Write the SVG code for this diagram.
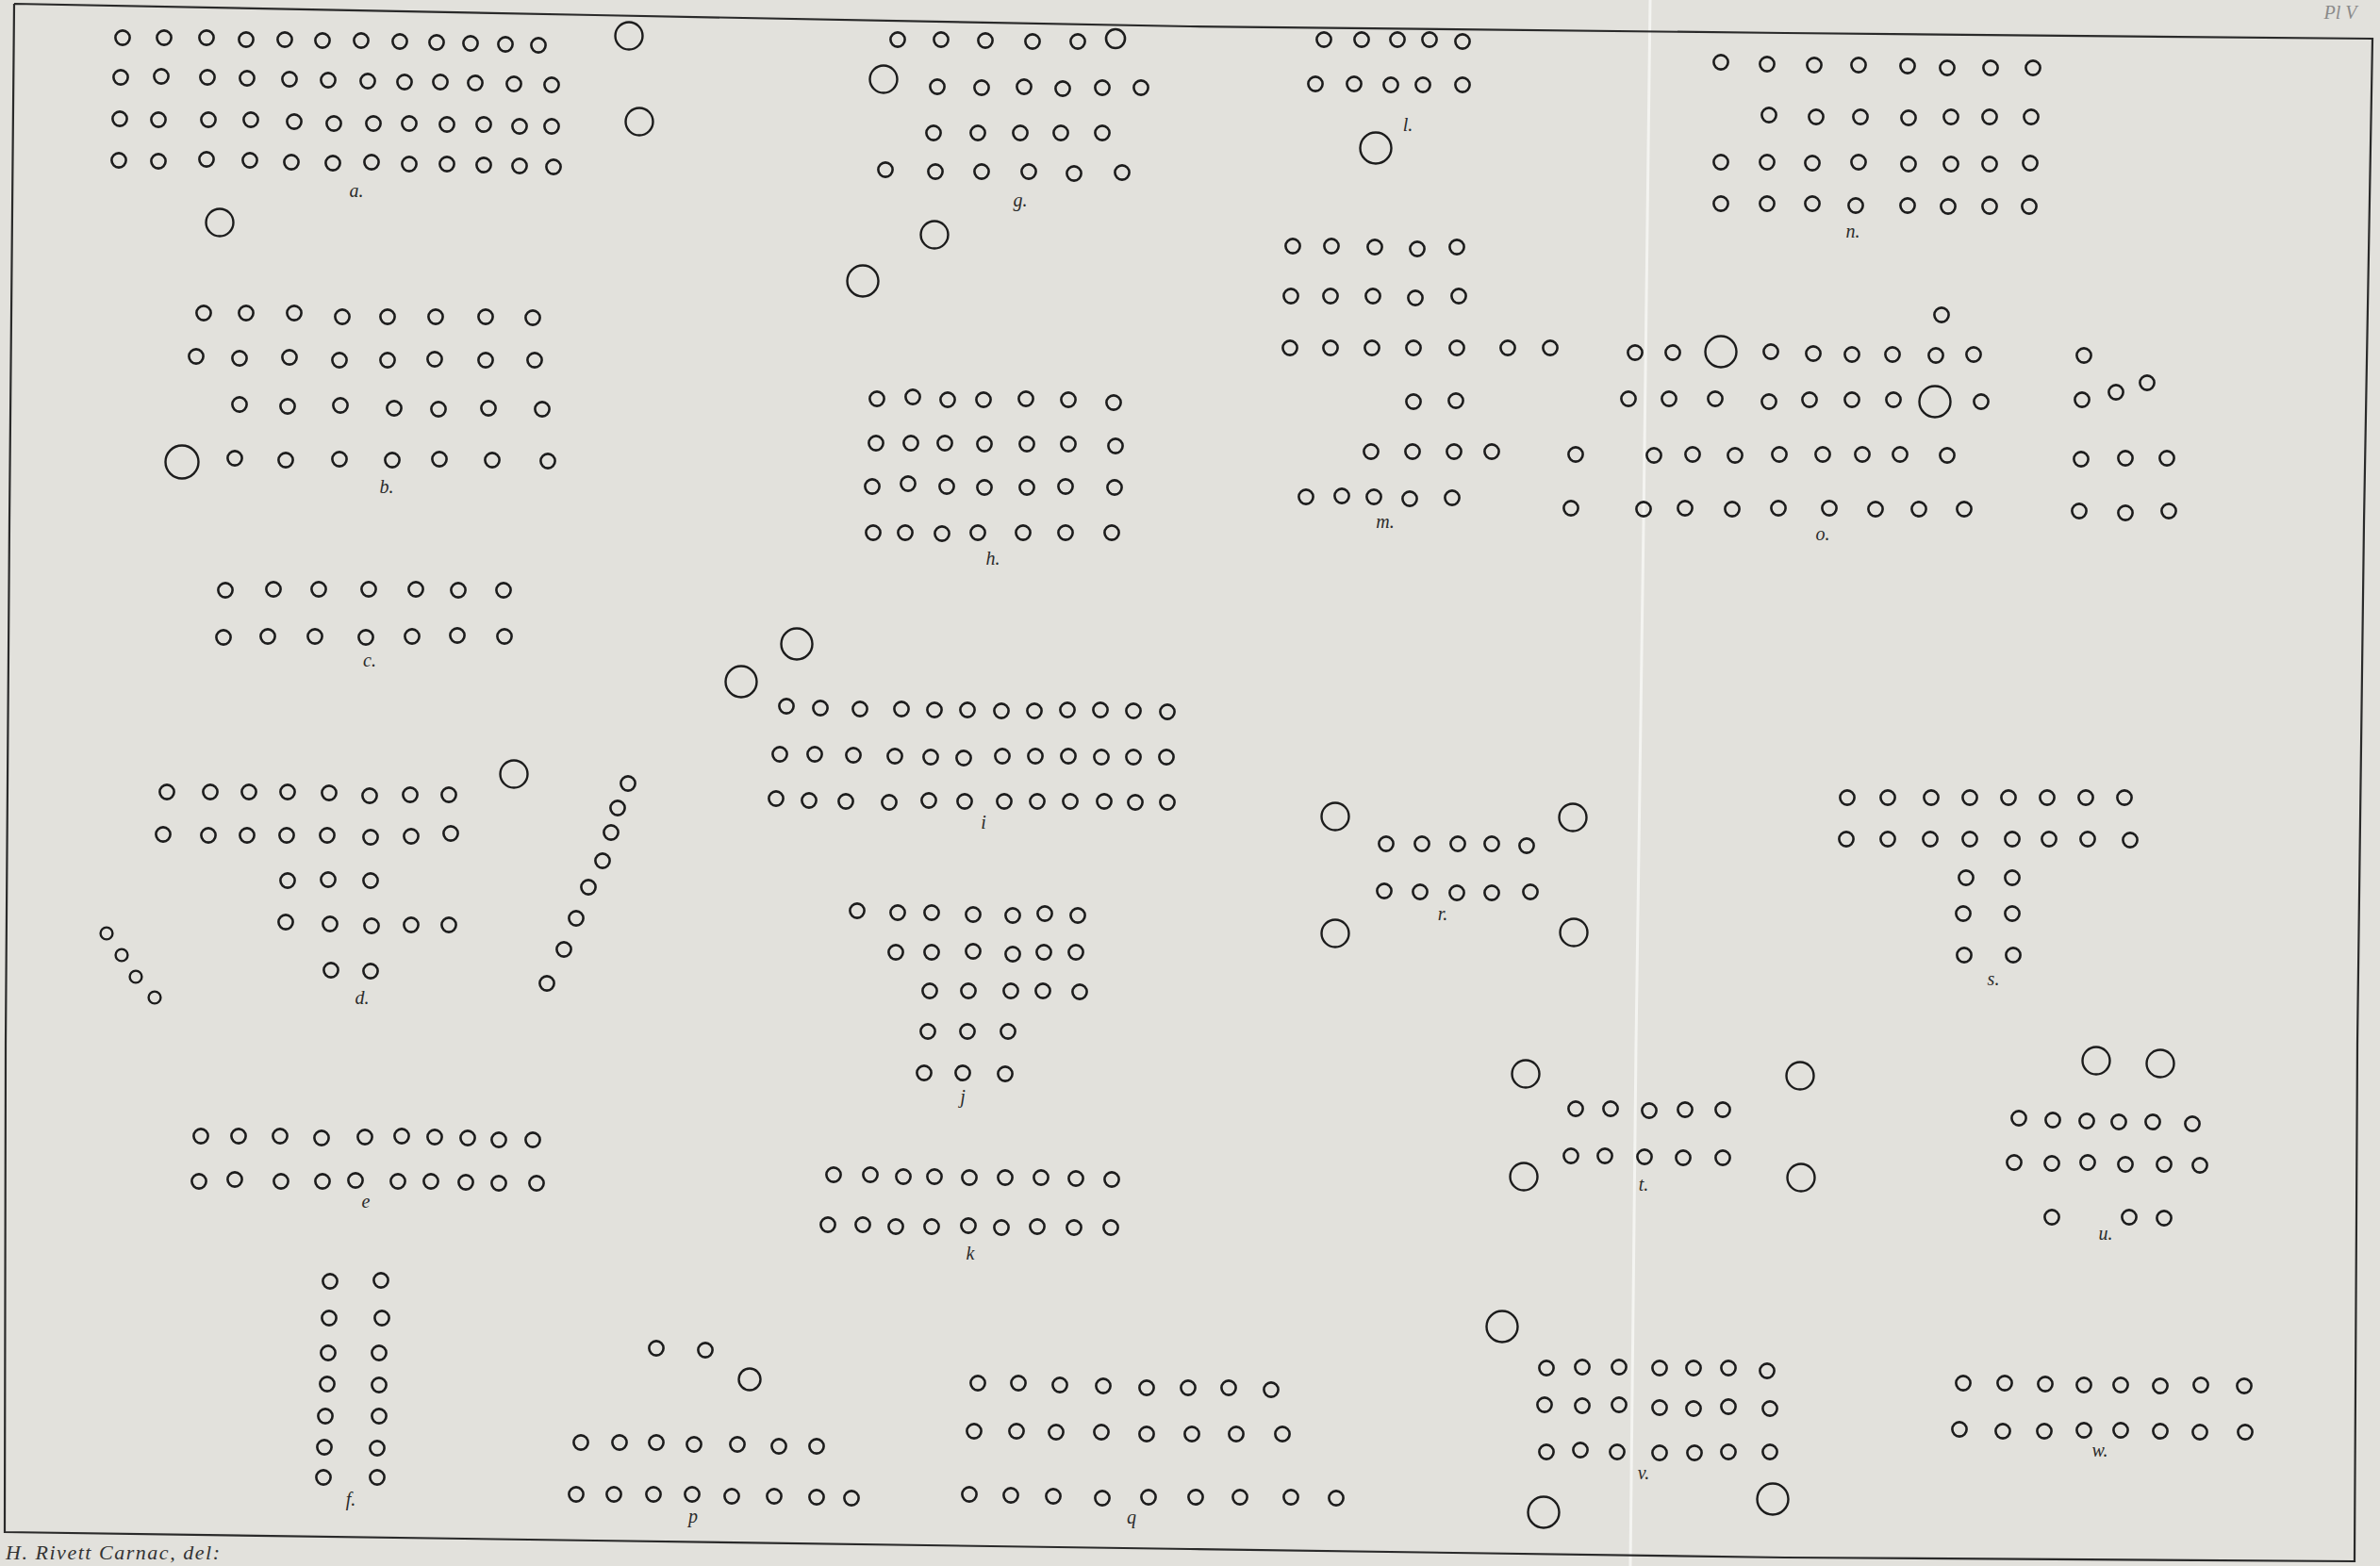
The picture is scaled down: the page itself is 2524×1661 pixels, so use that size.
<svg xmlns="http://www.w3.org/2000/svg" xmlns:xlink="http://www.w3.org/1999/xlink" width="2524" height="1661" viewBox="0 0 2524 1661">
<style>
.lbl{font-family:"Liberation Serif","DejaVu Serif",serif;font-style:italic;font-size:20px;fill:#2b2b2b;text-anchor:middle}
.frame{fill:none;stroke:#2a2a2a;stroke-width:2.2}
</style>
<defs>
<circle id="s" r="7.6" fill="none" stroke="#1c1c1c" stroke-width="2.6"/>
<circle id="t" r="6.4" fill="none" stroke="#1c1c1c" stroke-width="2.4"/>
<circle id="m" r="10" fill="none" stroke="#1c1c1c" stroke-width="2.6"/>
<circle id="m2" r="11.5" fill="none" stroke="#1c1c1c" stroke-width="2.4"/>
<circle id="b" r="14.5" fill="none" stroke="#1c1c1c" stroke-width="2.4"/>
<circle id="B" r="16.5" fill="none" stroke="#1c1c1c" stroke-width="2.4"/>
<circle id="L" r="17.5" fill="none" stroke="#1c1c1c" stroke-width="2.4"/>
</defs>
<rect width="2524" height="1661" fill="#e2e1dc"/>
<polyline points="1750,0 1743,554 1735,1108 1729,1661" fill="none" stroke="#f4f4f1" stroke-width="3"/>
<g id="frame">
<polyline class="frame" points="15,4 631,16 1262,28 1893,35 2516,41 2507,554 2500,1108 2497,1656 1893,1652 1262,1643 631,1634 5,1625 6,1108 10,554 15,4"/>
</g>
<text x="2482" y="20" style="font-family:'Liberation Serif',serif;font-style:italic;font-size:20px;fill:#8a8a8a;text-anchor:middle">Pl V</text>
<text x="6" y="1654" textLength="227" style="font-family:'Liberation Serif',serif;font-style:italic;font-size:22px;fill:#333">H. Rivett Carnac, del:</text>

<g id="fig-a">
<use href="#s" x="130" y="40"/><use href="#s" x="174" y="40"/><use href="#s" x="219" y="40"/><use href="#s" x="261" y="42"/><use href="#s" x="302" y="42"/><use href="#s" x="342" y="43"/><use href="#s" x="383" y="43"/><use href="#s" x="424" y="44"/><use href="#s" x="463" y="45"/><use href="#s" x="499" y="46"/><use href="#s" x="536" y="47"/><use href="#s" x="571" y="48"/>
<use href="#s" x="128" y="82"/><use href="#s" x="171" y="81"/><use href="#s" x="220" y="82"/><use href="#s" x="262" y="83"/><use href="#s" x="307" y="84"/><use href="#s" x="348" y="85"/><use href="#s" x="390" y="86"/><use href="#s" x="429" y="87"/><use href="#s" x="467" y="87"/><use href="#s" x="504" y="88"/><use href="#s" x="545" y="89"/><use href="#s" x="585" y="90"/>
<use href="#s" x="127" y="126"/><use href="#s" x="168" y="127"/><use href="#s" x="221" y="127"/><use href="#s" x="266" y="127"/><use href="#s" x="312" y="129"/><use href="#s" x="354" y="131"/><use href="#s" x="396" y="131"/><use href="#s" x="434" y="131"/><use href="#s" x="474" y="132"/><use href="#s" x="513" y="132"/><use href="#s" x="551" y="134"/><use href="#s" x="585" y="134"/>
<use href="#s" x="126" y="170"/><use href="#s" x="168" y="171"/><use href="#s" x="219" y="169"/><use href="#s" x="265" y="170"/><use href="#s" x="309" y="172"/><use href="#s" x="353" y="173"/><use href="#s" x="394" y="172"/><use href="#s" x="434" y="174"/><use href="#s" x="474" y="174"/><use href="#s" x="513" y="175"/><use href="#s" x="551" y="176"/><use href="#s" x="587" y="177"/>
<use href="#b" x="233" y="236"/>
<text class="lbl" x="378" y="209">a.</text>
</g>

<g id="fig-b">
<use href="#s" x="216" y="332"/><use href="#s" x="261" y="332"/><use href="#s" x="312" y="332"/><use href="#s" x="363" y="336"/><use href="#s" x="411" y="336"/><use href="#s" x="462" y="336"/><use href="#s" x="515" y="336"/><use href="#s" x="565" y="337"/>
<use href="#s" x="208" y="378"/><use href="#s" x="254" y="380"/><use href="#s" x="307" y="379"/><use href="#s" x="360" y="382"/><use href="#s" x="411" y="382"/><use href="#s" x="461" y="381"/><use href="#s" x="515" y="382"/><use href="#s" x="567" y="382"/>
<use href="#s" x="254" y="429"/><use href="#s" x="305" y="431"/><use href="#s" x="361" y="430"/><use href="#s" x="418" y="433"/><use href="#s" x="465" y="434"/><use href="#s" x="518" y="433"/><use href="#s" x="575" y="434"/>
<use href="#L" x="193" y="490"/>
<use href="#s" x="249" y="486"/><use href="#s" x="303" y="488"/><use href="#s" x="360" y="487"/><use href="#s" x="416" y="488"/><use href="#s" x="466" y="487"/><use href="#s" x="522" y="488"/><use href="#s" x="581" y="489"/>
<text class="lbl" x="410" y="523">b.</text>
</g>

<g id="fig-top-pair">
<use href="#b" x="667" y="38"/><use href="#b" x="678" y="129"/>
</g>

<g id="fig-c">
<use href="#s" x="239" y="626"/><use href="#s" x="290" y="625"/><use href="#s" x="338" y="625"/><use href="#s" x="391" y="625"/><use href="#s" x="441" y="625"/><use href="#s" x="486" y="626"/><use href="#s" x="534" y="626"/>
<use href="#s" x="237" y="676"/><use href="#s" x="284" y="675"/><use href="#s" x="334" y="675"/><use href="#s" x="388" y="676"/><use href="#s" x="437" y="675"/><use href="#s" x="485" y="674"/><use href="#s" x="535" y="675"/>
<text class="lbl" x="392" y="707">c.</text>
</g>

<g id="fig-d">
<use href="#s" x="177" y="840"/><use href="#s" x="223" y="840"/><use href="#s" x="264" y="840"/><use href="#s" x="305" y="840"/><use href="#s" x="349" y="841"/><use href="#s" x="392" y="844"/><use href="#s" x="435" y="843"/><use href="#s" x="476" y="843"/>
<use href="#s" x="173" y="885"/><use href="#s" x="221" y="886"/><use href="#s" x="262" y="886"/><use href="#s" x="304" y="886"/><use href="#s" x="347" y="886"/><use href="#s" x="393" y="888"/><use href="#s" x="436" y="887"/><use href="#s" x="478" y="884"/>
<use href="#s" x="305" y="934"/><use href="#s" x="348" y="933"/><use href="#s" x="393" y="934"/>
<use href="#s" x="303" y="978"/><use href="#s" x="350" y="980"/><use href="#s" x="394" y="982"/><use href="#s" x="436" y="981"/><use href="#s" x="476" y="981"/>
<use href="#s" x="351" y="1029"/><use href="#s" x="393" y="1030"/>
<use href="#t" x="113" y="990"/><use href="#t" x="129" y="1013"/><use href="#t" x="144" y="1036"/><use href="#t" x="164" y="1058"/>
<use href="#b" x="545" y="821"/>
<use href="#s" x="666" y="831"/><use href="#s" x="655" y="857"/><use href="#s" x="648" y="883"/><use href="#s" x="639" y="913"/><use href="#s" x="624" y="941"/><use href="#s" x="611" y="974"/><use href="#s" x="598" y="1007"/><use href="#s" x="580" y="1043"/>
<text class="lbl" x="384" y="1065">d.</text>
</g>

<g id="fig-e">
<use href="#s" x="213" y="1205"/><use href="#s" x="253" y="1205"/><use href="#s" x="297" y="1205"/><use href="#s" x="341" y="1207"/><use href="#s" x="387" y="1206"/><use href="#s" x="426" y="1205"/><use href="#s" x="461" y="1206"/><use href="#s" x="496" y="1207"/><use href="#s" x="529" y="1209"/><use href="#s" x="565" y="1209"/>
<use href="#s" x="211" y="1253"/><use href="#s" x="249" y="1251"/><use href="#s" x="298" y="1253"/><use href="#s" x="342" y="1253"/><use href="#s" x="377" y="1252"/><use href="#s" x="422" y="1253"/><use href="#s" x="457" y="1253"/><use href="#s" x="494" y="1254"/><use href="#s" x="529" y="1255"/><use href="#s" x="569" y="1255"/>
<text class="lbl" x="388" y="1281">e</text>
</g>

<g id="fig-f">
<use href="#s" x="350" y="1359"/><use href="#s" x="349" y="1398"/><use href="#s" x="348" y="1435"/><use href="#s" x="347" y="1468"/><use href="#s" x="345" y="1502"/><use href="#s" x="344" y="1535"/><use href="#s" x="343" y="1567"/>
<use href="#s" x="404" y="1358"/><use href="#s" x="405" y="1398"/><use href="#s" x="402" y="1435"/><use href="#s" x="402" y="1469"/><use href="#s" x="402" y="1502"/><use href="#s" x="400" y="1536"/><use href="#s" x="400" y="1567"/>
<text class="lbl" x="372" y="1597">f.</text>
</g>

<g id="fig-g">
<use href="#s" x="952" y="42"/><use href="#s" x="998" y="42"/><use href="#s" x="1045" y="43"/><use href="#s" x="1095" y="44"/><use href="#s" x="1143" y="44"/><use href="#m" x="1183" y="41"/>
<use href="#b" x="937" y="84"/>
<use href="#s" x="994" y="92"/><use href="#s" x="1041" y="93"/><use href="#s" x="1086" y="92"/><use href="#s" x="1127" y="94"/><use href="#s" x="1169" y="93"/><use href="#s" x="1210" y="93"/>
<use href="#s" x="990" y="141"/><use href="#s" x="1037" y="141"/><use href="#s" x="1082" y="141"/><use href="#s" x="1125" y="141"/><use href="#s" x="1169" y="141"/>
<use href="#s" x="939" y="180"/><use href="#s" x="992" y="182"/><use href="#s" x="1041" y="182"/><use href="#s" x="1091" y="182"/><use href="#s" x="1139" y="184"/><use href="#s" x="1190" y="183"/>
<use href="#b" x="991" y="249"/><use href="#B" x="915" y="298"/>
<text class="lbl" x="1082" y="219">g.</text>
</g>

<g id="fig-h">
<use href="#s" x="930" y="423"/><use href="#s" x="968" y="421"/><use href="#s" x="1005" y="424"/><use href="#s" x="1043" y="424"/><use href="#s" x="1088" y="423"/><use href="#s" x="1133" y="424"/><use href="#s" x="1181" y="427"/>
<use href="#s" x="929" y="470"/><use href="#s" x="966" y="470"/><use href="#s" x="1002" y="470"/><use href="#s" x="1044" y="471"/><use href="#s" x="1089" y="471"/><use href="#s" x="1133" y="471"/><use href="#s" x="1183" y="473"/>
<use href="#s" x="925" y="516"/><use href="#s" x="963" y="513"/><use href="#s" x="1004" y="516"/><use href="#s" x="1044" y="517"/><use href="#s" x="1089" y="517"/><use href="#s" x="1130" y="516"/><use href="#s" x="1182" y="517"/>
<use href="#s" x="926" y="565"/><use href="#s" x="960" y="565"/><use href="#s" x="999" y="566"/><use href="#s" x="1037" y="565"/><use href="#s" x="1085" y="565"/><use href="#s" x="1130" y="565"/><use href="#s" x="1179" y="565"/>
<text class="lbl" x="1053" y="599">h.</text>
</g>

<g id="fig-i">
<use href="#B" x="845" y="683"/><use href="#B" x="786" y="723"/>
<use href="#s" x="834" y="749"/><use href="#s" x="870" y="751"/><use href="#s" x="912" y="752"/><use href="#s" x="956" y="752"/><use href="#s" x="991" y="753"/><use href="#s" x="1026" y="753"/><use href="#s" x="1062" y="754"/><use href="#s" x="1097" y="754"/><use href="#s" x="1132" y="753"/><use href="#s" x="1167" y="753"/><use href="#s" x="1202" y="754"/><use href="#s" x="1238" y="755"/>
<use href="#s" x="827" y="800"/><use href="#s" x="864" y="800"/><use href="#s" x="905" y="801"/><use href="#s" x="949" y="802"/><use href="#s" x="987" y="803"/><use href="#s" x="1022" y="804"/><use href="#s" x="1063" y="802"/><use href="#s" x="1098" y="802"/><use href="#s" x="1133" y="802"/><use href="#s" x="1168" y="803"/><use href="#s" x="1202" y="803"/><use href="#s" x="1237" y="803"/>
<use href="#s" x="823" y="847"/><use href="#s" x="858" y="849"/><use href="#s" x="897" y="850"/><use href="#s" x="943" y="851"/><use href="#s" x="985" y="849"/><use href="#s" x="1023" y="850"/><use href="#s" x="1065" y="850"/><use href="#s" x="1100" y="850"/><use href="#s" x="1135" y="850"/><use href="#s" x="1171" y="850"/><use href="#s" x="1204" y="851"/><use href="#s" x="1238" y="851"/>
<text class="lbl" x="1043" y="879">i</text>
</g>

<g id="fig-j">
<use href="#s" x="909" y="966"/><use href="#s" x="952" y="968"/><use href="#s" x="988" y="968"/><use href="#s" x="1032" y="970"/><use href="#s" x="1074" y="971"/><use href="#s" x="1108" y="969"/><use href="#s" x="1143" y="971"/>
<use href="#s" x="950" y="1010"/><use href="#s" x="988" y="1010"/><use href="#s" x="1032" y="1009"/><use href="#s" x="1074" y="1012"/><use href="#s" x="1107" y="1010"/><use href="#s" x="1141" y="1010"/>
<use href="#s" x="986" y="1051"/><use href="#s" x="1027" y="1051"/><use href="#s" x="1072" y="1051"/><use href="#s" x="1106" y="1051"/><use href="#s" x="1145" y="1052"/>
<use href="#s" x="984" y="1094"/><use href="#s" x="1026" y="1094"/><use href="#s" x="1069" y="1094"/>
<use href="#s" x="980" y="1138"/><use href="#s" x="1021" y="1138"/><use href="#s" x="1066" y="1139"/>
<text class="lbl" x="1021" y="1170">j</text>
</g>

<g id="fig-k">
<use href="#s" x="884" y="1246"/><use href="#s" x="923" y="1246"/><use href="#s" x="958" y="1248"/><use href="#s" x="991" y="1248"/><use href="#s" x="1028" y="1249"/><use href="#s" x="1066" y="1249"/><use href="#s" x="1104" y="1249"/><use href="#s" x="1141" y="1250"/><use href="#s" x="1179" y="1251"/>
<use href="#s" x="878" y="1299"/><use href="#s" x="915" y="1299"/><use href="#s" x="950" y="1301"/><use href="#s" x="988" y="1301"/><use href="#s" x="1027" y="1300"/><use href="#s" x="1062" y="1302"/><use href="#s" x="1100" y="1301"/><use href="#s" x="1139" y="1302"/><use href="#s" x="1178" y="1302"/>
<text class="lbl" x="1029" y="1336">k</text>
</g>

<g id="fig-l">
<use href="#s" x="1404" y="42"/><use href="#s" x="1444" y="42"/><use href="#s" x="1482" y="42"/><use href="#s" x="1516" y="42"/><use href="#s" x="1551" y="44"/>
<use href="#s" x="1395" y="89"/><use href="#s" x="1436" y="89"/><use href="#s" x="1475" y="90"/><use href="#s" x="1509" y="90"/><use href="#s" x="1551" y="90"/>
<use href="#B" x="1459" y="157"/>
<text class="lbl" x="1493" y="139">l.</text>
</g>

<g id="fig-m">
<use href="#s" x="1371" y="261"/><use href="#s" x="1412" y="261"/><use href="#s" x="1458" y="262"/><use href="#s" x="1503" y="264"/><use href="#s" x="1545" y="262"/>
<use href="#s" x="1369" y="314"/><use href="#s" x="1411" y="314"/><use href="#s" x="1456" y="314"/><use href="#s" x="1501" y="316"/><use href="#s" x="1547" y="314"/>
<use href="#s" x="1368" y="369"/><use href="#s" x="1411" y="369"/><use href="#s" x="1455" y="369"/><use href="#s" x="1499" y="369"/><use href="#s" x="1545" y="369"/><use href="#s" x="1599" y="369"/><use href="#s" x="1644" y="369"/>
<use href="#s" x="1499" y="426"/><use href="#s" x="1544" y="425"/>
<use href="#s" x="1454" y="479"/><use href="#s" x="1498" y="479"/><use href="#s" x="1542" y="479"/><use href="#s" x="1582" y="479"/>
<use href="#s" x="1385" y="527"/><use href="#s" x="1423" y="526"/><use href="#s" x="1457" y="527"/><use href="#s" x="1495" y="529"/><use href="#s" x="1540" y="528"/>
<text class="lbl" x="1469" y="560">m.</text>
</g>

<g id="fig-n">
<use href="#s" x="1825" y="66"/><use href="#s" x="1874" y="68"/><use href="#s" x="1924" y="69"/><use href="#s" x="1971" y="69"/><use href="#s" x="2023" y="70"/><use href="#s" x="2065" y="72"/><use href="#s" x="2111" y="72"/><use href="#s" x="2156" y="72"/>
<use href="#s" x="1876" y="122"/><use href="#s" x="1926" y="124"/><use href="#s" x="1973" y="124"/><use href="#s" x="2024" y="125"/><use href="#s" x="2069" y="124"/><use href="#s" x="2110" y="124"/><use href="#s" x="2154" y="124"/>
<use href="#s" x="1825" y="172"/><use href="#s" x="1874" y="172"/><use href="#s" x="1922" y="173"/><use href="#s" x="1971" y="172"/><use href="#s" x="2024" y="174"/><use href="#s" x="2069" y="174"/><use href="#s" x="2110" y="174"/><use href="#s" x="2153" y="173"/>
<use href="#s" x="1825" y="216"/><use href="#s" x="1874" y="216"/><use href="#s" x="1922" y="216"/><use href="#s" x="1968" y="218"/><use href="#s" x="2023" y="218"/><use href="#s" x="2066" y="219"/><use href="#s" x="2110" y="219"/><use href="#s" x="2152" y="219"/>
<text class="lbl" x="1965" y="252">n.</text>
</g>

<g id="fig-o">
<use href="#s" x="2059" y="334"/>
<use href="#s" x="1734" y="374"/><use href="#s" x="1774" y="374"/><use href="#B" x="1825" y="373"/><use href="#s" x="1878" y="373"/><use href="#s" x="1923" y="375"/><use href="#s" x="1964" y="376"/><use href="#s" x="2007" y="376"/><use href="#s" x="2053" y="377"/><use href="#s" x="2093" y="376"/>
<use href="#s" x="1727" y="423"/><use href="#s" x="1770" y="423"/><use href="#s" x="1819" y="423"/><use href="#s" x="1876" y="426"/><use href="#s" x="1919" y="424"/><use href="#s" x="1964" y="424"/><use href="#s" x="2008" y="424"/><use href="#B" x="2052" y="426"/><use href="#s" x="2101" y="426"/>
<use href="#s" x="1671" y="482"/><use href="#s" x="1754" y="483"/><use href="#s" x="1795" y="482"/><use href="#s" x="1840" y="483"/><use href="#s" x="1887" y="482"/><use href="#s" x="1933" y="482"/><use href="#s" x="1975" y="482"/><use href="#s" x="2015" y="482"/><use href="#s" x="2065" y="483"/>
<use href="#s" x="1666" y="539"/><use href="#s" x="1743" y="540"/><use href="#s" x="1787" y="539"/><use href="#s" x="1837" y="540"/><use href="#s" x="1886" y="539"/><use href="#s" x="1940" y="539"/><use href="#s" x="1989" y="540"/><use href="#s" x="2035" y="540"/><use href="#s" x="2083" y="540"/>
<text class="lbl" x="1933" y="573">o.</text>
</g>

<g id="fig-o-right">
<use href="#s" x="2210" y="377"/>
<use href="#s" x="2208" y="424"/><use href="#s" x="2244" y="416"/><use href="#s" x="2277" y="406"/>
<use href="#s" x="2207" y="487"/><use href="#s" x="2254" y="486"/><use href="#s" x="2298" y="486"/>
<use href="#s" x="2205" y="542"/><use href="#s" x="2254" y="544"/><use href="#s" x="2300" y="542"/>
</g>

<g id="fig-p">
<use href="#s" x="696" y="1430"/><use href="#s" x="748" y="1432"/><use href="#m2" x="795" y="1463"/>
<use href="#s" x="616" y="1530"/><use href="#s" x="657" y="1530"/><use href="#s" x="696" y="1530"/><use href="#s" x="736" y="1532"/><use href="#s" x="782" y="1532"/><use href="#s" x="826" y="1534"/><use href="#s" x="866" y="1534"/>
<use href="#s" x="611" y="1585"/><use href="#s" x="651" y="1585"/><use href="#s" x="693" y="1585"/><use href="#s" x="734" y="1585"/><use href="#s" x="776" y="1587"/><use href="#s" x="821" y="1587"/><use href="#s" x="866" y="1588"/><use href="#s" x="903" y="1589"/>
<text class="lbl" x="735" y="1615">p</text>
</g>

<g id="fig-q">
<use href="#s" x="1037" y="1467"/><use href="#s" x="1080" y="1467"/><use href="#s" x="1124" y="1469"/><use href="#s" x="1170" y="1470"/><use href="#s" x="1216" y="1472"/><use href="#s" x="1260" y="1472"/><use href="#s" x="1303" y="1472"/><use href="#s" x="1348" y="1474"/>
<use href="#s" x="1033" y="1518"/><use href="#s" x="1078" y="1518"/><use href="#s" x="1120" y="1519"/><use href="#s" x="1168" y="1519"/><use href="#s" x="1216" y="1521"/><use href="#s" x="1264" y="1521"/><use href="#s" x="1311" y="1521"/><use href="#s" x="1360" y="1521"/>
<use href="#s" x="1028" y="1585"/><use href="#s" x="1072" y="1586"/><use href="#s" x="1117" y="1587"/><use href="#s" x="1169" y="1589"/><use href="#s" x="1218" y="1588"/><use href="#s" x="1268" y="1588"/><use href="#s" x="1315" y="1588"/><use href="#s" x="1369" y="1588"/><use href="#s" x="1417" y="1589"/>
<text class="lbl" x="1200" y="1616">q</text>
</g>

<g id="fig-r">
<use href="#b" x="1416" y="866"/><use href="#b" x="1668" y="867"/><use href="#b" x="1416" y="990"/><use href="#b" x="1669" y="989"/>
<use href="#s" x="1470" y="895"/><use href="#s" x="1508" y="895"/><use href="#s" x="1546" y="895"/><use href="#s" x="1582" y="895"/><use href="#s" x="1619" y="897"/>
<use href="#s" x="1468" y="945"/><use href="#s" x="1506" y="946"/><use href="#s" x="1545" y="947"/><use href="#s" x="1582" y="947"/><use href="#s" x="1623" y="946"/>
<text class="lbl" x="1530" y="976">r.</text>
</g>

<g id="fig-s">
<use href="#s" x="1959" y="846"/><use href="#s" x="2002" y="846"/><use href="#s" x="2048" y="846"/><use href="#s" x="2089" y="846"/><use href="#s" x="2130" y="846"/><use href="#s" x="2171" y="846"/><use href="#s" x="2212" y="846"/><use href="#s" x="2253" y="846"/>
<use href="#s" x="1958" y="890"/><use href="#s" x="2002" y="890"/><use href="#s" x="2047" y="890"/><use href="#s" x="2089" y="890"/><use href="#s" x="2134" y="890"/><use href="#s" x="2173" y="890"/><use href="#s" x="2214" y="890"/><use href="#s" x="2259" y="891"/>
<use href="#s" x="2085" y="931"/><use href="#s" x="2134" y="931"/>
<use href="#s" x="2082" y="969"/><use href="#s" x="2134" y="969"/>
<use href="#s" x="2083" y="1013"/><use href="#s" x="2135" y="1013"/>
<text class="lbl" x="2114" y="1045">s.</text>
</g>

<g id="fig-t">
<use href="#b" x="1618" y="1139"/><use href="#b" x="1616" y="1248"/><use href="#b" x="1909" y="1141"/><use href="#b" x="1910" y="1249"/>
<use href="#s" x="1671" y="1176"/><use href="#s" x="1708" y="1176"/><use href="#s" x="1749" y="1178"/><use href="#s" x="1787" y="1177"/><use href="#s" x="1827" y="1177"/>
<use href="#s" x="1666" y="1226"/><use href="#s" x="1702" y="1226"/><use href="#s" x="1744" y="1227"/><use href="#s" x="1785" y="1228"/><use href="#s" x="1827" y="1228"/>
<text class="lbl" x="1743" y="1263">t.</text>
</g>

<g id="fig-u">
<use href="#b" x="2223" y="1125"/><use href="#b" x="2291" y="1128"/>
<use href="#s" x="2141" y="1186"/><use href="#s" x="2177" y="1188"/><use href="#s" x="2213" y="1189"/><use href="#s" x="2247" y="1190"/><use href="#s" x="2283" y="1190"/><use href="#s" x="2325" y="1192"/>
<use href="#s" x="2136" y="1233"/><use href="#s" x="2176" y="1234"/><use href="#s" x="2214" y="1233"/><use href="#s" x="2254" y="1235"/><use href="#s" x="2295" y="1235"/><use href="#s" x="2333" y="1236"/>
<use href="#s" x="2176" y="1291"/><use href="#s" x="2258" y="1291"/><use href="#s" x="2295" y="1292"/>
<text class="lbl" x="2233" y="1315">u.</text>
</g>

<g id="fig-v">
<use href="#B" x="1593" y="1407"/><use href="#B" x="1637" y="1604"/><use href="#B" x="1880" y="1590"/>
<use href="#s" x="1640" y="1451"/><use href="#s" x="1678" y="1450"/><use href="#s" x="1717" y="1450"/><use href="#s" x="1760" y="1451"/><use href="#s" x="1796" y="1451"/><use href="#s" x="1833" y="1451"/><use href="#s" x="1874" y="1454"/>
<use href="#s" x="1638" y="1490"/><use href="#s" x="1678" y="1491"/><use href="#s" x="1717" y="1490"/><use href="#s" x="1760" y="1493"/><use href="#s" x="1796" y="1494"/><use href="#s" x="1833" y="1492"/><use href="#s" x="1877" y="1494"/>
<use href="#s" x="1640" y="1540"/><use href="#s" x="1676" y="1538"/><use href="#s" x="1715" y="1540"/><use href="#s" x="1760" y="1541"/><use href="#s" x="1797" y="1541"/><use href="#s" x="1833" y="1540"/><use href="#s" x="1877" y="1540"/>
<text class="lbl" x="1743" y="1569">v.</text>
</g>

<g id="fig-w">
<use href="#s" x="2082" y="1467"/><use href="#s" x="2126" y="1467"/><use href="#s" x="2169" y="1468"/><use href="#s" x="2210" y="1469"/><use href="#s" x="2249" y="1469"/><use href="#s" x="2291" y="1470"/><use href="#s" x="2334" y="1469"/><use href="#s" x="2380" y="1470"/>
<use href="#s" x="2078" y="1516"/><use href="#s" x="2124" y="1518"/><use href="#s" x="2168" y="1518"/><use href="#s" x="2210" y="1517"/><use href="#s" x="2249" y="1517"/><use href="#s" x="2291" y="1518"/><use href="#s" x="2333" y="1519"/><use href="#s" x="2381" y="1519"/>
<text class="lbl" x="2227" y="1545">w.</text>
</g>
</svg>
